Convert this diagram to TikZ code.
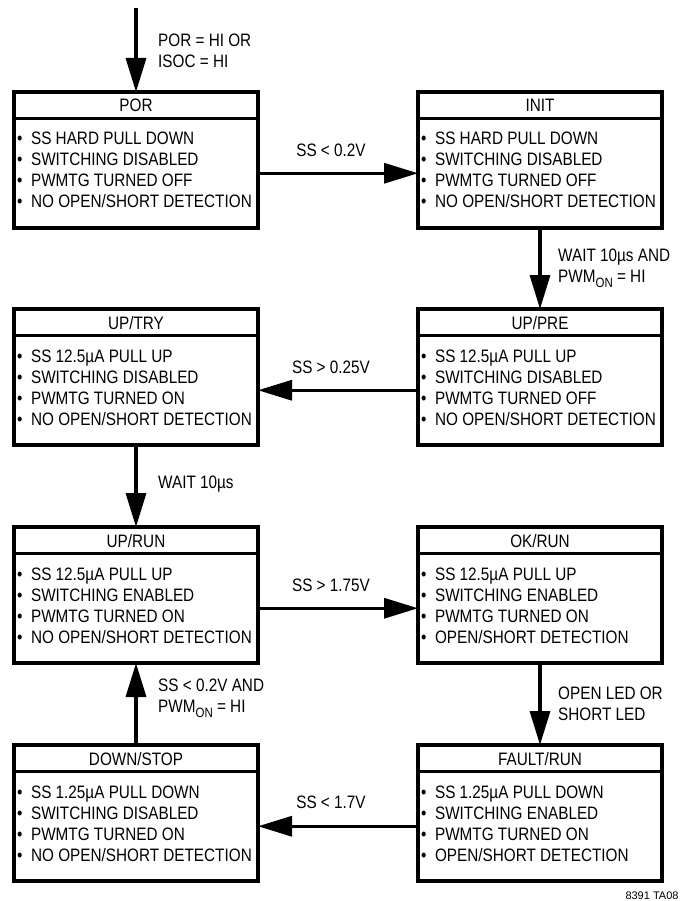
\documentclass[tikz,border=0pt]{standalone}
\usepackage{fontspec}
\setmainfont{Liberation Sans}[FakeStretch=0.85]
\newfontfamily\plainfont{Liberation Sans}
\usetikzlibrary{arrows.meta}
\newcommand\pwmon{PWM\raisebox{-0.28em}{\fontsize{13.5}{13.5}\selectfont ON}}
% #1 name, #2 centre x, #3 top y, #4 title, #5-#8 lines
\newcommand\statebox[8]{%
  \node[titlebox] (#1) at (#2,#3) {};
  \node[ttext] (#1-t) at (#2,#3+20) {#4};
  \node[bodybox] (#1b) at (#2,#3+26.5) {};
  \node[bline] (#1-1) at (#2-119,#3+53) {•\hspace{8.5pt}#5};
  \node[bline] (#1-2) at (#2-119,#3+74) {•\hspace{8.5pt}#6};
  \node[bline] (#1-3) at (#2-119,#3+95) {•\hspace{8.5pt}#7};
  \node[bline] (#1-4) at (#2-119,#3+116) {•\hspace{8.5pt}#8};
}
\begin{document}
\begin{tikzpicture}[x=1pt,y=-1pt,
  every node/.style={font=\fontsize{18}{21}\selectfont},
  titlebox/.style={draw, line width=3.3pt, minimum width=244pt, minimum height=26.5pt,
    inner sep=0pt, outer sep=0pt, anchor=north},
  bodybox/.style={draw, line width=3.3pt, minimum width=244pt, minimum height=109.5pt,
    inner sep=0pt, anchor=north, outer sep=0pt},
  ttext/.style={inner sep=0pt, anchor=base},
  bline/.style={inner sep=0pt, anchor=base west},
  arr/.style={line width=3.3pt, -{Triangle[length=34pt,width=20pt]}},
  vlbl/.style={inner sep=0pt, anchor=west, align=left},
  hlbl/.style={inner sep=0pt, anchor=center}
]
\useasboundingbox (0,0) rectangle (690,901);

\statebox{por}{136}{92}{POR}{SS HARD PULL DOWN}{SWITCHING DISABLED}{PWMTG TURNED OFF}{NO OPEN/SHORT DETECTION}
\statebox{init}{540}{92}{INIT}{SS HARD PULL DOWN}{SWITCHING DISABLED}{PWMTG TURNED OFF}{NO OPEN/SHORT DETECTION}
\statebox{uptry}{136}{309}{UP/TRY}{SS 12.5µA PULL UP}{SWITCHING DISABLED}{PWMTG TURNED ON}{NO OPEN/SHORT DETECTION}
\statebox{uppre}{540}{309}{UP/PRE}{SS 12.5µA PULL UP}{SWITCHING DISABLED}{PWMTG TURNED OFF}{NO OPEN/SHORT DETECTION}
\statebox{uprun}{136}{527}{UP/RUN}{SS 12.5µA PULL UP}{SWITCHING ENABLED}{PWMTG TURNED ON}{NO OPEN/SHORT DETECTION}
\statebox{okrun}{540}{527}{OK/RUN}{SS 12.5µA PULL UP}{SWITCHING ENABLED}{PWMTG TURNED ON}{OPEN/SHORT DETECTION}
\statebox{down}{136}{745}{DOWN/STOP}{SS 1.25µA PULL DOWN}{SWITCHING DISABLED}{PWMTG TURNED ON}{NO OPEN/SHORT DETECTION}
\statebox{fault}{540}{745}{FAULT/RUN}{SS 1.25µA PULL DOWN}{SWITCHING ENABLED}{PWMTG TURNED ON}{OPEN/SHORT DETECTION}

% Connectors
\coordinate (start) at (136,8);
\draw[arr] (start) -- (por.north);
\draw[arr] (porb.east) -- (initb.west);
\draw[arr] (initb.south) -- (uppre.north);
\draw[arr] (uppreb.west) -- (uptryb.east);
\draw[arr] (uptryb.south) -- (uprun.north);
\draw[arr] (uprunb.east) -- (okrunb.west);
\draw[arr] (okrunb.south) -- (fault.north);
\draw[arr] (faultb.west) -- (downb.east);
\draw[arr] (down.north) -- (uprunb.south);

% Labels
\node[vlbl] (l1) at (158,51) {POR = HI OR\\ISOC = HI};
\node[hlbl] (l2) at (331,150) {SS < 0.2V};
\node[vlbl] (l3) at (558,268) {WAIT 10µs AND\\\pwmon{} = HI};
\node[hlbl] (l4) at (331,367) {SS > 0.25V};
\node[vlbl] (l5) at (158,484) {WAIT 10µs};
\node[hlbl] (l6) at (331,585) {SS > 1.75V};
\node[vlbl] (l7) at (558,704) {OPEN LED OR\\SHORT LED};
\node[vlbl] (l8) at (158,698) {SS < 0.2V AND\\\pwmon{} = HI};
\node[hlbl] (l9) at (331,802) {SS < 1.7V};
\node[inner sep=0pt, font=\plainfont\fontsize{11}{11}\selectfont] (code) at (652,896) {8391 TA08};
\end{tikzpicture}
\end{document}
